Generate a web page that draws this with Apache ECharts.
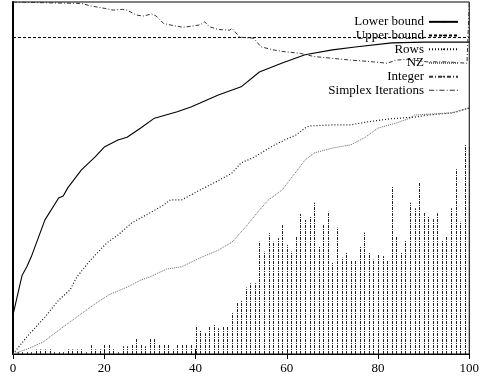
<!DOCTYPE html>
<html>
<head>
<meta charset="utf-8">
<script src="https://cdn.jsdelivr.net/npm/echarts@6/dist/echarts.min.js"></script>
<style>
  html, body { margin: 0; padding: 0; background: #fff; }
  #chart { width: 482px; height: 381px; }
</style>
</head>
<body>
<div id="chart"></div>
<script>
// values, y normalised to 0..100
const xTicks = [0, 20, 40, 60, 80, 100]

const lowerX = [0, 2, 3, 4, 7, 10, 11, 12, 15, 18, 20, 23, 25, 28, 31, 36, 39, 41, 45, 50, 54, 59, 64, 70, 75, 83, 90, 100]
const lowerY = [11.1, 22.4, 24.7, 27.6, 38.1, 44.3, 44.9, 47.2, 52.3, 56.0, 58.8, 60.8, 61.6, 64.2, 67.0, 68.8, 70.2, 71.3, 73.6, 75.9, 80.1, 82.7, 85.0, 86.4, 87.2, 88.4, 88.6, 88.6]

const upperX = [0, 100]
const upperY = [89.9, 89.9]

const rowsX = [0, 3, 7, 10, 12.5, 14, 17, 20.5, 23, 26, 30, 33, 34.5, 37, 41, 44.5, 48, 50, 53, 56.5, 59.5, 62, 64, 65, 70, 74, 77.5, 82.5, 88, 91, 96.5, 100]
const rowsY = [0, 4.8, 10.5, 15.3, 18.2, 21.9, 26.7, 31.5, 33.8, 37.2, 40.1, 42.3, 43.8, 43.8, 46.6, 48.9, 51.4, 54.3, 56.0, 58.8, 60.8, 62.2, 64.2, 64.8, 65.1, 65.1, 65.9, 66.8, 67.3, 67.9, 68.5, 69.9]

const nzX = [0, 3.7, 6.6, 11, 14, 17.6, 21, 25, 28, 30, 33.6, 37, 41, 45, 48, 51, 54, 56, 59, 64, 66, 70, 74, 77, 80, 84, 87, 88, 92, 96, 100]
const nzY = [0, 1.7, 3.4, 7.7, 10.5, 13.9, 16.8, 19.0, 21.0, 21.9, 24.1, 24.8, 27.3, 29.5, 31.8, 36.1, 40.9, 43.8, 46.6, 55.1, 57.1, 58.5, 59.4, 61.4, 64.2, 65.6, 67.0, 67.9, 68.2, 68.5, 69.9]

const intX = [0, 10, 15, 17, 20, 22, 24, 25, 27, 28.5, 30.4, 31.4, 33, 34.4, 37.3, 41, 42, 43, 45, 47.5, 48, 49.7, 52.8, 54.3, 57, 59.4, 63, 66, 70, 74, 79, 82, 84, 86.4, 90.7, 95, 99.5, 100]
const intY = [100, 99.7, 99.6, 98.9, 98.2, 97.7, 97.9, 97.7, 96.3, 96.0, 96.6, 96.0, 93.9, 93.5, 92.8, 93.5, 94.4, 93.0, 92.2, 92.0, 92.5, 90.0, 89.7, 87.3, 86.4, 85.9, 85.4, 84.5, 84.0, 83.5, 83.0, 82.6, 83.5, 83.7, 83.0, 83.0, 82.6, 100]

// one impulse per node, x = 0..100
const simplexY = [
  0.5, 0.5, 0.5, 0.5, 0.5, 1.3, 1.3, 1.3, 1.3, 0.5,
  0.5, 0.5, 1.3, 1.3, 1.3, 1.3, 0.5, 2.5, 1.3, 1.3,
  2.8, 2.8, 1.3, 0.5, 2.2, 2.2, 2.8, 4.5, 2.8, 2.2,
  4.3, 4.3, 2.8, 2.8, 2.8, 1.3, 2.8, 2.8, 2.8, 2.8,
  8.0, 6.8, 5.9, 7.8, 8.2, 7.3, 7.8, 7.8, 11.6, 14.6,
  15.3, 18.9, 20.1, 20.1, 31.9, 29.1, 34.3, 31.9, 32.9, 36.6,
  31.0, 29.1, 33.5, 39.8, 38.1, 39.0, 43.0, 30.5, 36.6, 40.4,
  25.9, 35.9, 27.4, 28.8, 26.5, 26.5, 30.7, 34.5, 28.8, 26.8,
  28.4, 27.8, 26.5, 47.7, 33.5, 28.8, 32.4, 43.0, 41.4, 48.7,
  40.1, 39.2, 38.3, 40.0, 32.4, 33.5, 41.4, 52.5, 37.6, 59.4,
  59.0
]

const pairs = (xs, ys) => xs.map((x, i) => [x, ys[i]])
const font = 'Liberation Serif, Times New Roman, serif'

const lineSeries = (name, xs, ys, color, dash, width) => ({
  name,
  type: 'line',
  data: pairs(xs, ys),
  showSymbol: false,
  symbol: 'none',
  lineStyle: { color, width: width || 1, type: dash },
  itemStyle: { color },
  z: 3,
})

const chart = echarts.init(document.getElementById('chart'))
chart.setOption({
  animation: false,
  grid: {
    left: 13, right: 11, top: 2, bottom: 27,
    show: true, borderColor: '#000', borderWidth: 1,
  },
  legend: {
    orient: 'vertical',
    right: 23,
    top: 15,
    padding: 0,
    align: 'right',
    itemWidth: 29,
    itemHeight: 2,
    itemGap: 0,
    textStyle: { fontFamily: font, fontSize: 13, color: '#000', padding: [0, 0, 0, 0], lineHeight: 13.7 },
    data: [
      'Lower bound', 'Upper bound', 'Rows', 'NZ', 'Integer',
      { name: 'Simplex Iterations', icon: 'path://M0,0h5v1h-5zM7,0h1v1h-1zM10,0h5v1h-5zM17,0h1v1h-1zM20,0h5v1h-5zM27,0h1v1h-1z' },
    ],
  },
  xAxis: [
    {
      type: 'value', min: 0, max: 100, interval: 20,
      axisLine: { show: true, onZero: false, lineStyle: { color: '#000', width: 1 } },
      axisTick: { show: true, inside: true, length: 5, lineStyle: { color: '#000' } },
      axisLabel: { fontFamily: font, fontSize: 13, color: '#000', margin: 8 },
      splitLine: { show: false },
    },
    {
      type: 'value', position: 'top', min: 0, max: 100, interval: 20,
      axisLine: { show: true, lineStyle: { color: '#000', width: 1 } },
      axisTick: { show: true, inside: true, length: 5, lineStyle: { color: '#000' } },
      axisLabel: { show: false },
      splitLine: { show: false },
    },
  ],
  yAxis: {
    type: 'value', min: 0, max: 100,
    axisLine: { show: true, lineStyle: { color: '#000', width: 2 } },
    axisTick: { show: false },
    axisLabel: { show: false },
    splitLine: { show: false },
  },
  series: [
    lineSeries('Lower bound', lowerX, lowerY, '#000', 'solid', 1.1),
    lineSeries('Upper bound', upperX, upperY, '#000', [3, 2]),
    lineSeries('Rows', rowsX, rowsY, '#111', [1, 2], 1.2),
    lineSeries('NZ', nzX, nzY, '#666', [1, 1]),
    lineSeries('Integer', intX, intY, '#333', [4, 2, 1, 2]),
    {
      name: 'Simplex Iterations',
      type: 'custom',
      itemStyle: { color: '#333' },
      data: simplexY.map((v, i) => [i, v]),
      renderItem: (params, api) => {
        const a = api.coord([api.value(0), 0])
        const b = api.coord([api.value(0), api.value(1)])
        const x = Math.round(a[0]) + 0.5
        return {
          type: 'line',
          shape: { x1: x, y1: a[1], x2: x, y2: b[1] },
          style: { stroke: '#222', lineWidth: 1, lineDash: [3, 1, 1, 1] },
        }
      },
      z: 2,
    },
  ],
})
</script>
</body>
</html>
